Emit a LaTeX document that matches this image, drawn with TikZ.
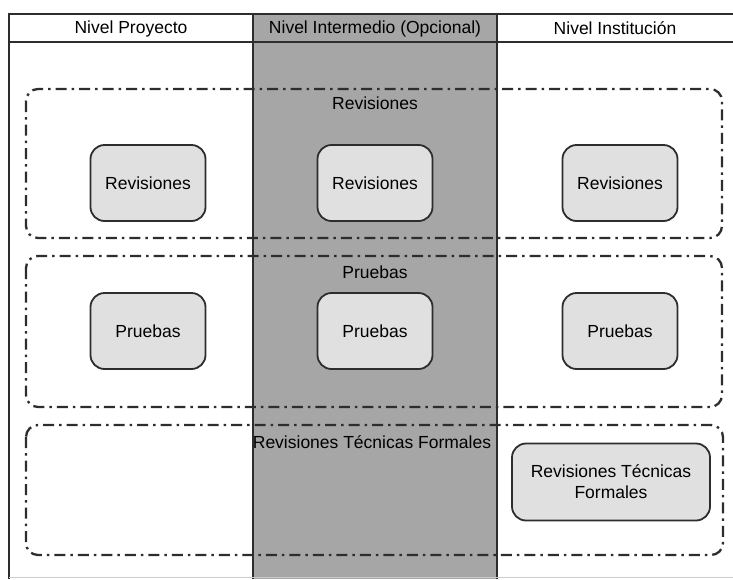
\documentclass[tikz,border=0pt]{standalone}
\usepackage{fontspec}
\setmainfont{Liberation Sans}
\definecolor{colgray}{RGB}{166,166,166}
\definecolor{boxfill}{RGB}{224,224,224}
\definecolor{linegray}{RGB}{45,45,45}

\begin{document}
\begin{tikzpicture}[x=1pt,y=-1pt,
  every node/.style={font=\fontsize{17.5}{21}\selectfont},
  actividad/.style={draw=linegray,line width=1.8pt,rounded corners=14pt,fill=boxfill,
    minimum width=115pt,minimum height=76pt,align=center},
  grupo/.style={draw=linegray,line width=2.3pt,rounded corners=12pt,
    dash pattern=on 11pt off 5pt on 2.5pt off 5pt},
  marco/.style={draw=linegray,line width=1.6pt}]
\useasboundingbox (0,0) rectangle (733,579);

% columnas
\fill[colgray] (253,14) rectangle (497,579);
\draw[marco] (733,14) -- (9,14) -- (9,579);
\draw[marco] (9,42) -- (733,42);
\draw[marco] (253,14) -- (253,579);
\draw[marco] (497,14) -- (497,579);
\draw[gray!40,line width=1pt] (9,577) -- (733,577);

\node (proy) at (131,28.5) {Nivel Proyecto};
\node (inter) at (375,28.5) {Nivel Intermedio (Opcional)};
\node (inst) at (615,28.5) {Nivel Institución};

% grupos
\draw[grupo] (26,89) rectangle (722,238);
\draw[grupo] (26,256) rectangle (722,407);
\draw[grupo] (26,425) rectangle (723,555);

\node (grev) at (375,103) {Revisiones};
\node (gpru) at (375,272) {Pruebas};
\node (grtf) at (372,442) {Revisiones Técnicas Formales};

% actividades
\foreach \x/\n in {148/p,375/i,620/n} {
  \node[actividad] (rev\n) at (\x,183) {Revisiones};
  \node[actividad] (pru\n) at (\x,331) {Pruebas};
}
\node[actividad,minimum width=198pt,minimum height=77pt] (rtf) at (611,482)
  {Revisiones Técnicas\\Formales};
\end{tikzpicture}
\end{document}
